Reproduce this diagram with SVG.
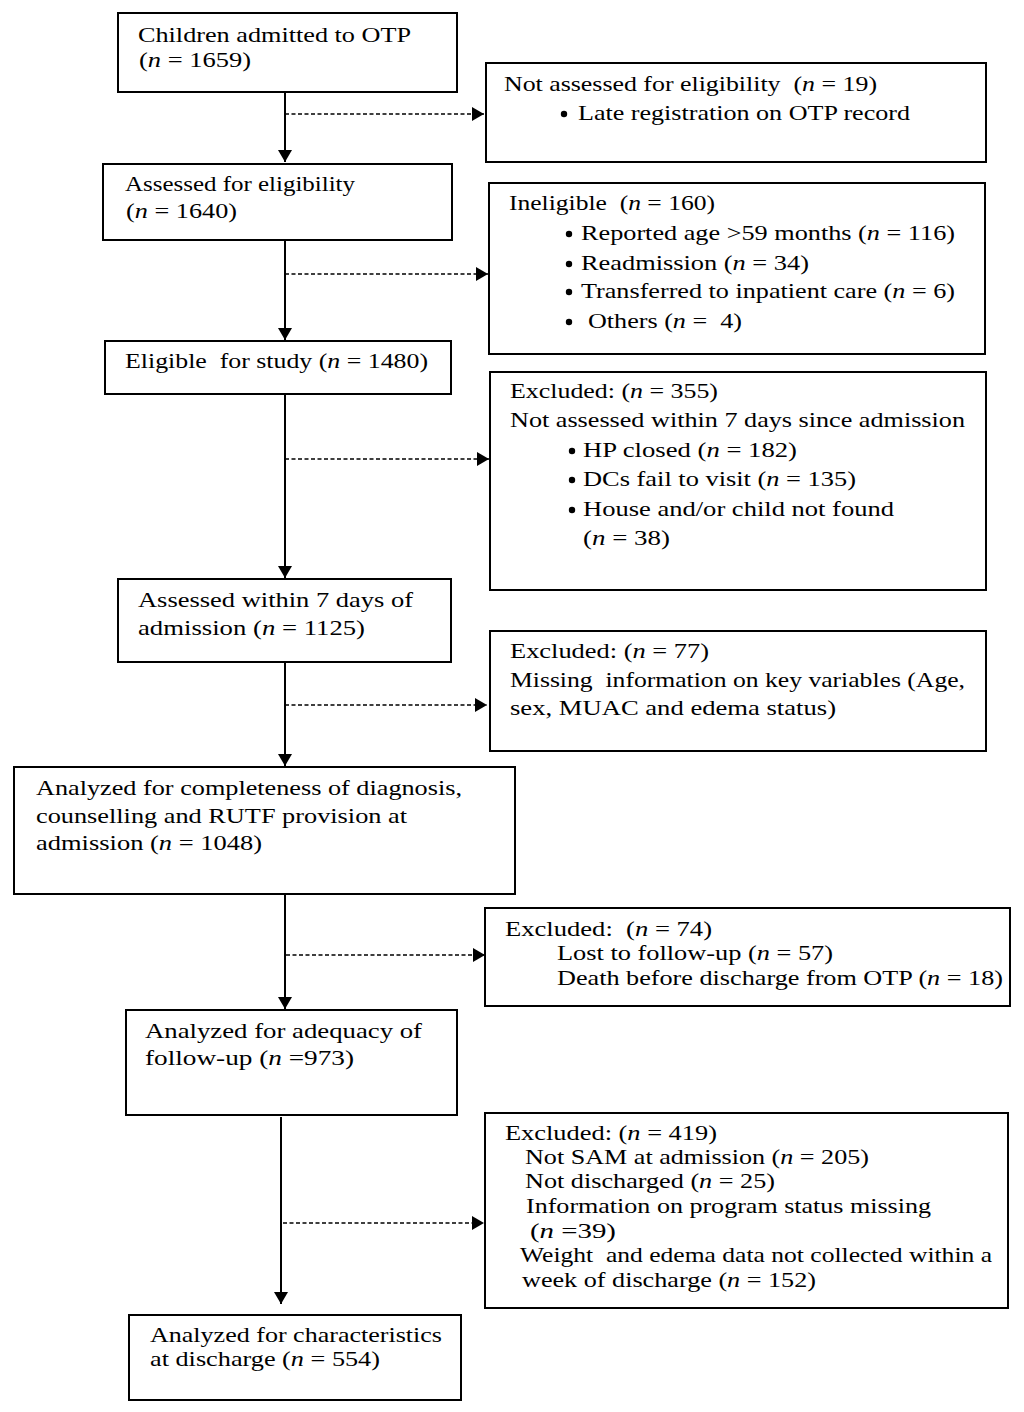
<svg xmlns="http://www.w3.org/2000/svg" width="1024" height="1412" viewBox="0 0 1024 1412">
<style>
.box{fill:#fff;stroke:#000;stroke-width:2}
text{font-family:"Liberation Serif","Times New Roman",serif;font-size:21px;fill:#000;white-space:pre}
.i{font-style:italic}
.solid{stroke:#000;stroke-width:2;fill:none}
.dash{stroke:#000;stroke-width:1.6;fill:none;stroke-dasharray:4 2.5}
.b{fill:#000}
</style>
<defs>
<marker id="ah" viewBox="0 0 12 14" markerWidth="12" markerHeight="14" refX="12" refY="7" orient="auto" markerUnits="userSpaceOnUse">
<path d="M0,0 L12,7 L0,14 z" fill="#000"/>
</marker>
</defs>
<rect width="1024" height="1412" fill="#fff"/>

<g id="connectors">
<path class="solid" d="M285,92 V162" marker-end="url(#ah)"/>
<path class="dash" d="M285,114 H484" marker-end="url(#ah)"/>
<path class="solid" d="M285,240 V340" marker-end="url(#ah)"/>
<path class="dash" d="M285,274 H488" marker-end="url(#ah)"/>
<path class="solid" d="M285,394 V578" marker-end="url(#ah)"/>
<path class="dash" d="M285,459 H489" marker-end="url(#ah)"/>
<path class="solid" d="M285,662 V766" marker-end="url(#ah)"/>
<path class="dash" d="M285,705 H487" marker-end="url(#ah)"/>
<path class="solid" d="M285,894 V1009" marker-end="url(#ah)"/>
<path class="dash" d="M286,955 H485" marker-end="url(#ah)"/>
<path class="solid" d="M281,1117 V1304" marker-end="url(#ah)"/>
<path class="dash" d="M283,1223 H484" marker-end="url(#ah)"/>
</g>

<g id="n1">
<rect class="box" x="118" y="13" width="339" height="79"/>
<text x="138" y="42" textLength="273" lengthAdjust="spacingAndGlyphs">Children admitted to OTP</text>
<text x="139" y="67" textLength="112" lengthAdjust="spacingAndGlyphs">(<tspan class="i">n</tspan> = 1659)</text>
</g>

<g id="x1">
<rect class="box" x="486" y="63" width="500" height="99"/>
<text x="504" y="91" textLength="373" lengthAdjust="spacingAndGlyphs">Not assessed for eligibility  (<tspan class="i">n</tspan> = 19)</text>
<circle class="b" cx="564" cy="114" r="3.2"/>
<text x="578" y="120" textLength="332" lengthAdjust="spacingAndGlyphs">Late registration on OTP record</text>
</g>

<g id="n2">
<rect class="box" x="103" y="164" width="349" height="76"/>
<text x="125" y="191" textLength="230" lengthAdjust="spacingAndGlyphs">Assessed for eligibility</text>
<text x="126" y="218" textLength="111" lengthAdjust="spacingAndGlyphs">(<tspan class="i">n</tspan> = 1640)</text>
</g>

<g id="x2">
<rect class="box" x="489" y="183" width="496" height="171"/>
<text x="509" y="210" textLength="206" lengthAdjust="spacingAndGlyphs">Ineligible  (<tspan class="i">n</tspan> = 160)</text>
<circle class="b" cx="569" cy="234" r="3.2"/>
<text x="581" y="240" textLength="374" lengthAdjust="spacingAndGlyphs">Reported age &gt;59 months (<tspan class="i">n</tspan> = 116)</text>
<circle class="b" cx="569" cy="264" r="3.2"/>
<text x="581" y="270" textLength="228" lengthAdjust="spacingAndGlyphs">Readmission (<tspan class="i">n</tspan> = 34)</text>
<circle class="b" cx="569" cy="292" r="3.2"/>
<text x="581" y="298" textLength="374" lengthAdjust="spacingAndGlyphs">Transferred to inpatient care (<tspan class="i">n</tspan> = 6)</text>
<circle class="b" cx="569" cy="322" r="3.2"/>
<text x="588" y="328" textLength="154" lengthAdjust="spacingAndGlyphs">Others (<tspan class="i">n</tspan> =  4)</text>
</g>

<g id="n3">
<rect class="box" x="105" y="341" width="346" height="53"/>
<text x="125" y="368" textLength="303" lengthAdjust="spacingAndGlyphs">Eligible  for study (<tspan class="i">n</tspan> = 1480)</text>
</g>

<g id="x3">
<rect class="box" x="490" y="372" width="496" height="218"/>
<text x="510" y="398" textLength="208" lengthAdjust="spacingAndGlyphs">Excluded: (<tspan class="i">n</tspan> = 355)</text>
<text x="510" y="427" textLength="455" lengthAdjust="spacingAndGlyphs">Not assessed within 7 days since admission</text>
<circle class="b" cx="572" cy="451" r="3.2"/>
<text x="583" y="457" textLength="214" lengthAdjust="spacingAndGlyphs">HP closed (<tspan class="i">n</tspan> = 182)</text>
<circle class="b" cx="572" cy="480" r="3.2"/>
<text x="583" y="486" textLength="273" lengthAdjust="spacingAndGlyphs">DCs fail to visit (<tspan class="i">n</tspan> = 135)</text>
<circle class="b" cx="572" cy="510" r="3.2"/>
<text x="583" y="516" textLength="311" lengthAdjust="spacingAndGlyphs">House and/or child not found</text>
<text x="583" y="545" textLength="87" lengthAdjust="spacingAndGlyphs">(<tspan class="i">n</tspan> = 38)</text>
</g>

<g id="n4">
<rect class="box" x="118" y="579" width="333" height="83"/>
<text x="138" y="607" textLength="275" lengthAdjust="spacingAndGlyphs">Assessed within 7 days of</text>
<text x="138" y="635" textLength="227" lengthAdjust="spacingAndGlyphs">admission (<tspan class="i">n</tspan> = 1125)</text>
</g>

<g id="x4">
<rect class="box" x="490" y="631" width="496" height="120"/>
<text x="510" y="658" textLength="199" lengthAdjust="spacingAndGlyphs">Excluded: (<tspan class="i">n</tspan> = 77)</text>
<text x="510" y="687" textLength="455" lengthAdjust="spacingAndGlyphs">Missing  information on key variables (Age,</text>
<text x="510" y="715" textLength="326" lengthAdjust="spacingAndGlyphs">sex, MUAC and edema status)</text>
</g>

<g id="n5">
<rect class="box" x="14" y="767" width="501" height="127"/>
<text x="36" y="795" textLength="426" lengthAdjust="spacingAndGlyphs">Analyzed for completeness of diagnosis,</text>
<text x="36" y="823" textLength="371" lengthAdjust="spacingAndGlyphs">counselling and RUTF provision at</text>
<text x="36" y="850" textLength="226" lengthAdjust="spacingAndGlyphs">admission (<tspan class="i">n</tspan> = 1048)</text>
</g>

<g id="x5">
<rect class="box" x="485" y="908" width="525" height="98"/>
<text x="505" y="936" textLength="207" lengthAdjust="spacingAndGlyphs">Excluded:  (<tspan class="i">n</tspan> = 74)</text>
<text x="557" y="960" textLength="276" lengthAdjust="spacingAndGlyphs">Lost to follow-up (<tspan class="i">n</tspan> = 57)</text>
<text x="557" y="985" textLength="446" lengthAdjust="spacingAndGlyphs">Death before discharge from OTP (<tspan class="i">n</tspan> = 18)</text>
</g>

<g id="n6">
<rect class="box" x="126" y="1010" width="331" height="105"/>
<text x="145" y="1038" textLength="277" lengthAdjust="spacingAndGlyphs">Analyzed for adequacy of</text>
<text x="145" y="1065" textLength="209" lengthAdjust="spacingAndGlyphs">follow-up (<tspan class="i">n</tspan> =973)</text>
</g>

<g id="x6">
<rect class="box" x="485" y="1113" width="523" height="195"/>
<text x="505" y="1140" textLength="212" lengthAdjust="spacingAndGlyphs">Excluded: (<tspan class="i">n</tspan> = 419)</text>
<text x="525" y="1164" textLength="344" lengthAdjust="spacingAndGlyphs">Not SAM at admission (<tspan class="i">n</tspan> = 205)</text>
<text x="525" y="1188" textLength="250" lengthAdjust="spacingAndGlyphs">Not discharged (<tspan class="i">n</tspan> = 25)</text>
<text x="526" y="1213" textLength="405" lengthAdjust="spacingAndGlyphs">Information on program status missing</text>
<text x="530" y="1238" textLength="86" lengthAdjust="spacingAndGlyphs">(<tspan class="i">n</tspan> =39)</text>
<text x="520" y="1262" textLength="472" lengthAdjust="spacingAndGlyphs">Weight  and edema data not collected within a</text>
<text x="522" y="1287" textLength="294" lengthAdjust="spacingAndGlyphs">week of discharge (<tspan class="i">n</tspan> = 152)</text>
</g>

<g id="n7">
<rect class="box" x="129" y="1315" width="332" height="85"/>
<text x="150" y="1342" textLength="292" lengthAdjust="spacingAndGlyphs">Analyzed for characteristics</text>
<text x="150" y="1366" textLength="230" lengthAdjust="spacingAndGlyphs">at discharge (<tspan class="i">n</tspan> = 554)</text>
</g>
</svg>
